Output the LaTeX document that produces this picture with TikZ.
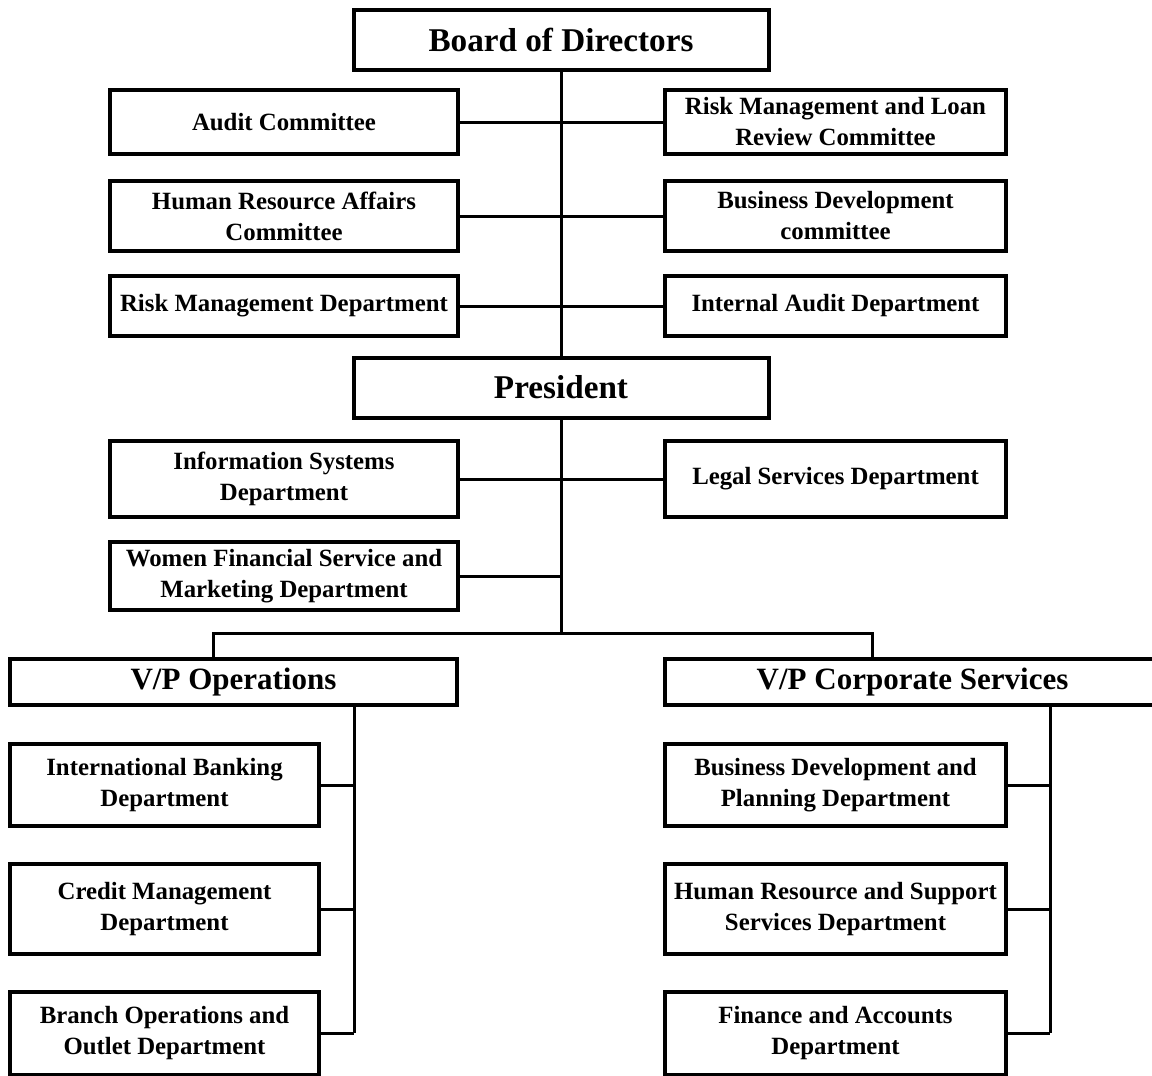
\documentclass[tikz,border=0pt]{standalone}
\usepackage{fontspec}
\setmainfont{Liberation Serif}
\usepackage{tikz}
\usetikzlibrary{positioning}

\begin{document}
\begin{tikzpicture}[x=0.5pt,y=-0.5pt,
box/.style={draw,line width=2pt,rectangle,inner sep=0pt,align=center,
    font=\bfseries\fontsize{12.4}{15.5}\selectfont},
topbox/.style={box,minimum width=207.5pt,minimum height=30pt,
    font=\bfseries\fontsize{16.6}{19}\selectfont},
vpbox/.style={box,minimum height=23pt,font=\bfseries\fontsize{15.5}{18}\selectfont},
lbox/.style={box,minimum width=174pt},
rbox/.style={box,minimum width=170.5pt},
subl/.style={box,minimum width=154.5pt},
link/.style={line width=1.5pt}]
\useasboundingbox (0,0) rectangle (1152,1076);

% top of the chart
\node (board) [topbox] at (561,39.5) {Board of Directors};
\node (pres) [topbox] at (561,387.5) {President};

\node (audit) [lbox,minimum height=32pt] at (284,122) {Audit Committee};
\node (riskloan) [rbox,minimum height=32pt] at (835.5,122) {Risk Management and Loan\\Review Committee};
\node (hrc) [lbox,minimum height=35pt] at (284,216) {Human Resource Affairs\\Committee};
\node (bizcom) [rbox,minimum height=35pt] at (835.5,216) {Business Development\\committee};
\node (riskdep) [lbox,minimum height=30pt] at (284,306) {Risk Management Department};
\node (intaudit) [rbox,minimum height=30pt] at (835.5,306) {Internal Audit Department};

\node (infosys) [lbox,minimum height=38pt] at (284,479) {Information Systems\\Department};
\node (legal) [rbox,minimum height=38pt] at (835.5,479) {Legal Services Department};
\node (women) [lbox,minimum height=34pt] at (284,576) {Women Financial Service and\\Marketing Department};

% vice presidents
\node (vpops) [vpbox,minimum width=223.5pt] at (233.5,682) {V/P Operations};
\node (vpcorp) [vpbox,minimum width=247.5pt] at (912.5,682) {V/P Corporate Services};

\node (intl) [subl,minimum height=41pt] at (164.5,785) {International Banking\\Department};
\node (credit) [subl,minimum height=45pt] at (164.5,909) {Credit Management\\Department};
\node (branch) [subl,minimum height=41.5pt] at (164.5,1033) {Branch Operations and\\Outlet Department};

\node (bizplan) [rbox,minimum height=41pt] at (835.5,785) {Business Development and\\Planning Department};
\node (hrsup) [rbox,minimum height=45pt] at (835.5,909) {Human Resource and Support\\Services Department};
\node (finance) [rbox,minimum height=41.5pt] at (835.5,1033) {Finance and Accounts\\Department};

\coordinate (bus) at (561,633);
\coordinate (busL) at (213,633);
\coordinate (busR) at (872,633);
\coordinate (opsline) at (354,0);
\coordinate (corpline) at (1050,0);

% connectors
\draw[link] (board) -- (pres);
\draw[link] (audit) -- (riskloan);
\draw[link] (hrc) -- (bizcom);
\draw[link] (riskdep) -- (intaudit);
\draw[link] (pres) -- (bus);
\draw[link] (infosys) -- (legal);
\draw[link] (women) -- (women -| bus);
\draw[link] (busL |- vpops.north) -- (busL) -- (busR) -- (busR |- vpcorp.north);

\draw[link] (opsline |- vpops.south) -- (opsline |- branch.east);
\foreach \n in {intl,credit,branch}
  \draw[link] (\n.east) -- (\n.east -| opsline);
\draw[link] (corpline |- vpcorp.south) -- (corpline |- finance.east);
\foreach \n in {bizplan,hrsup,finance}
  \draw[link] (\n.east) -- (\n.east -| corpline);
\end{tikzpicture}
\end{document}
